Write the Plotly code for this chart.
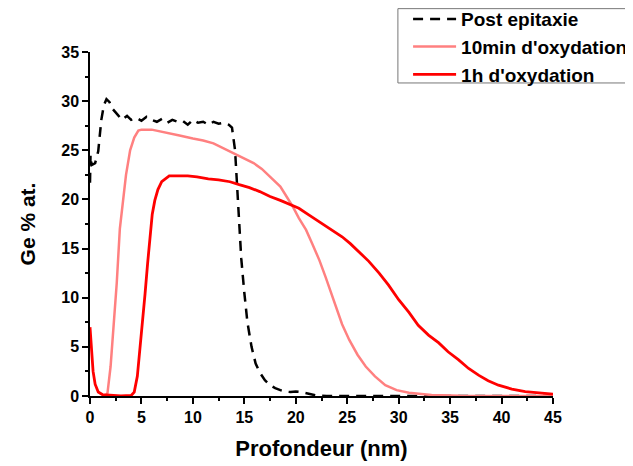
import plotly.graph_objects as go

# Post epitaxie
x_post = [0, 0.05, 0.16, 0.5, 0.8, 1.1, 1.35, 1.6, 1.9, 2.2, 2.7, 3.1, 3.6, 4.0, 4.5, 5.0, 5.5, 6.0,
          6.5, 7.0, 7.5, 8.0, 8.5, 9.0, 9.5, 10.0, 10.5, 11.0, 11.5, 12.0, 12.5, 13.0, 13.5, 13.8,
          14.1, 14.4, 14.7, 15.0, 15.3, 15.7, 16.1, 16.5, 17.0, 17.5, 18.0, 18.5, 19.0, 19.5, 20.0,
          20.5, 21.0, 21.5, 22.0, 23, 25, 30, 35, 40, 45]
y_post = [21.7, 24.5, 23.5, 23.7, 24.9, 28.1, 29.6, 30.2, 29.9, 29.2, 28.6, 28.1, 28.5, 28.1, 28.3,
          28.0, 28.4, 28.1, 27.9, 28.2, 27.8, 28.1, 27.9, 28.0, 27.6, 28.1, 27.8, 27.9, 27.6, 27.9,
          27.7, 27.8, 27.6, 27.3, 25.0, 20.0, 14.0, 10.5, 7.5, 5.0, 3.3, 2.4, 1.6, 1.1, 0.8, 0.6,
          0.45, 0.4, 0.45, 0.4, 0.3, 0.15, 0.05, 0, 0, 0, 0, 0, 0]

# 10min d'oxydation
x_10 = [1.5, 1.7, 2.0, 2.3, 2.6, 2.9, 3.2, 3.5, 3.9, 4.3, 4.7, 5.0, 6.0, 7.0, 8.0, 8.7, 10.0, 11.0,
        12.0, 13.0, 13.9, 15.0, 15.9, 16.7, 17.5, 18.5, 19.1, 19.7, 20.3, 21.0, 21.6, 22.3, 22.9,
        23.4, 23.9, 24.5, 25.2, 26.0, 26.8, 27.7, 28.7, 29.8, 31.0, 33.2, 36, 40, 45]
y_10 = [0, 0.3, 3.0, 7.0, 11.5, 17.0, 20.0, 22.5, 25.0, 26.3, 27.0, 27.1, 27.1, 26.9, 26.7, 26.5,
        26.2, 26.0, 25.7, 25.2, 24.7, 24.2, 23.7, 23.1, 22.3, 21.3, 20.3, 19.3, 18.1, 16.9, 15.5,
        13.8, 12.1, 10.6, 9.1, 7.3, 5.7, 4.2, 3.0, 2.0, 1.1, 0.6, 0.34, 0.1, 0.02, 0, 0]

# 1h d'oxydation
x_1h = [0, 0.1, 0.3, 0.5, 0.8, 1.2, 2, 3, 4.0, 4.3, 4.6, 4.86, 5.1, 5.35, 5.6, 5.83, 6.05, 6.3,
        6.6, 6.97, 7.7, 8.5, 9.5, 10.4, 11.5, 12.5, 13.6, 14.5, 15.5, 16.5, 17.5, 18.5, 19.5,
        20.3, 21.3, 22.3, 23.4, 24.5, 25.3, 26.1, 27.1, 28.1, 29.0, 30.0, 31.0, 31.9, 32.9, 33.9,
        34.8, 35.8, 36.8, 37.8, 38.7, 39.7, 41.0, 42.3, 43.6, 45]
y_1h = [7.0, 5.5, 2.5, 1.2, 0.4, 0.15, 0.05, 0.0, 0.05, 0.4, 2.0, 4.7, 7.5, 10.4, 13.5, 16.5, 18.5,
        19.9, 21.0, 21.8, 22.4, 22.4, 22.4, 22.3, 22.1, 22.0, 21.8, 21.5, 21.2, 20.8, 20.3, 19.9,
        19.5, 19.1, 18.4, 17.7, 17.0, 16.2, 15.5, 14.7, 13.7, 12.5, 11.3, 9.8, 8.5, 7.2, 6.2, 5.4,
        4.5, 3.7, 2.8, 2.1, 1.55, 1.1, 0.7, 0.44, 0.3, 0.2]

x_ticks = [0, 5, 10, 15, 20, 25, 30, 35, 40, 45]
y_ticks = [0, 5, 10, 15, 20, 25, 30, 35]

FONT = "Arial, Liberation Sans, sans-serif"

fig = go.Figure()
fig.add_trace(go.Scatter(x=x_post, y=y_post, mode="lines", name="Post epitaxie",
                         line=dict(color="black", width=2.5, dash="10px,7px")))
fig.add_trace(go.Scatter(x=x_10, y=y_10, mode="lines", name="10min d'oxydation",
                         line=dict(color="#ff8080", width=2.5)))
fig.add_trace(go.Scatter(x=x_1h, y=y_1h, mode="lines", name="1h d'oxydation",
                         line=dict(color="#ff0000", width=2.8)))

axis_common = dict(showline=True, linecolor="black", linewidth=1.5, ticks="outside",
                   ticklen=6, tickwidth=1.5, tickcolor="black", showgrid=False, zeroline=False,
                   tickfont=dict(family=FONT, size=16, color="black", weight="bold"))

fig.update_xaxes(range=[0, 45], tickvals=x_ticks, ticktext=[str(t) for t in x_ticks],
                 minor=dict(dtick=2.5, ticks="outside", ticklen=3, tickwidth=1.5, tickcolor="black"),
                 title=dict(text="Profondeur (nm)", font=dict(family=FONT, size=22, color="black", weight="bold"),
                            standoff=16),
                 **axis_common)
fig.update_yaxes(range=[0, 35], tickvals=y_ticks, ticktext=[str(t) for t in y_ticks],
                 minor=dict(dtick=2.5, ticks="outside", ticklen=3, tickwidth=1.5, tickcolor="black"),
                 title=dict(text="Ge % at.", font=dict(family=FONT, size=21, color="black", weight="bold"),
                            standoff=20),
                 **axis_common)

# legend frame
fig.add_shape(type="rect", xref="paper", yref="paper", x0=0.665, x1=1.3, y0=0.91, y1=1.126,
              line=dict(color="#777777", width=1), fillcolor="rgba(0,0,0,0)", layer="above")

fig.update_layout(
    width=633, height=466,
    margin=dict(l=82, r=88, t=44, b=78, autoexpand=False),
    plot_bgcolor="white", paper_bgcolor="white",
    font=dict(family=FONT, color="black"),
    legend=dict(x=0.687, y=1.151, xanchor="left", yanchor="top",
                borderwidth=0, bgcolor="rgba(0,0,0,0)",
                font=dict(family=FONT, size=19, color="black", weight="bold"),
                tracegroupgap=0, itemwidth=43),
    showlegend=True,
)

fig.write_html("out.html")
